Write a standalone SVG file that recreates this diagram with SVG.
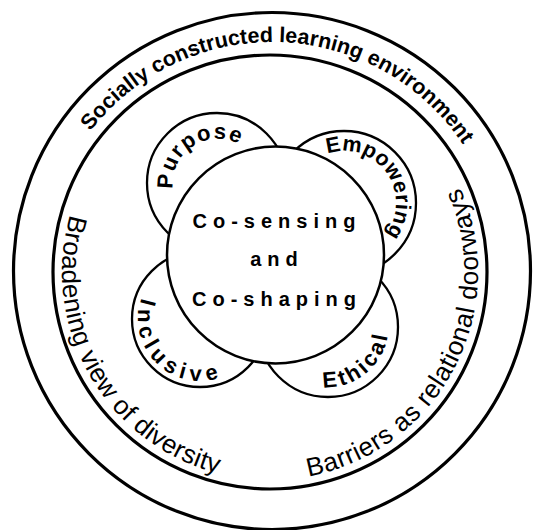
<svg xmlns="http://www.w3.org/2000/svg" xmlns:xlink="http://www.w3.org/1999/xlink" width="534" height="530" viewBox="0 0 534 530">
<style>
.ring{fill:none;stroke:#000;stroke-width:3.2}
.petal{fill:#fff;stroke:#000;stroke-width:2.3}
.core{fill:#fff;stroke:#000;stroke-width:2.5}
.lbl{font-family:"Liberation Sans",Arial,sans-serif;fill:#000}
.b{font-weight:bold}
</style>
<defs>
<path id="pSoc" d="M43.1,263 A229,229 0 0 1 500.9,279"/>
<path id="pBro" d="M167.1,91.2 A208,208 0 0 0 372.9,452.8"/>
<path id="pBar" d="M173.3,456.2 A208,208 0 0 0 366.7,87.8"/>
<path id="pPur" d="M180.5,209.3 A45,45 0 0 1 253.5,156.7"/>
<path id="pEmp" d="M313.3,161 A52,52 0 0 1 374.7,245"/>
<path id="pInc" d="M157.1,274.2 A62,62 0 0 0 242.9,363.8"/>
<path id="pEth" d="M278,363.6 A62,62 0 0 0 378,290.4"/>
</defs>
<rect width="534" height="530" fill="#fff"/>
<g id="environment">
<circle class="ring" cx="272" cy="271" r="258.5"/>
<text class="lbl b" font-size="21.5" text-anchor="middle"><textPath xlink:href="#pSoc" href="#pSoc" startOffset="359.7">Socially constructed learning environment</textPath></text>
</g>
<g id="diversity-ring">
<circle class="ring" cx="270" cy="272" r="217"/>
<text class="lbl" font-size="26" text-anchor="middle" letter-spacing="0.3"><textPath xlink:href="#pBro" href="#pBro" startOffset="326.9">Broadening view of diversity</textPath></text>
<text class="lbl" font-size="26" text-anchor="middle" letter-spacing="0.6"><textPath xlink:href="#pBar" href="#pBar" startOffset="327">Barriers as relational doorways</textPath></text>
</g>
<g id="purpose">
<circle class="petal" cx="217" cy="183" r="70"/>
<text class="lbl b" font-size="22" text-anchor="middle" letter-spacing="1.6"><textPath xlink:href="#pPur" href="#pPur" startOffset="71.5">Purpose</textPath></text>
</g>
<g id="empowering">
<circle class="petal" cx="344" cy="203" r="72"/>
<text class="lbl b" font-size="21.5" text-anchor="middle" letter-spacing="0.3"><textPath xlink:href="#pEmp" href="#pEmp" startOffset="81.9">Empowering</textPath></text>
</g>
<g id="inclusive">
<circle class="petal" cx="200" cy="319" r="68"/>
<text class="lbl b" font-size="22" text-anchor="middle" letter-spacing="5.5"><textPath xlink:href="#pInc" href="#pInc" startOffset="100.2">Inclusive</textPath></text>
</g>
<g id="ethical">
<circle class="petal" cx="328" cy="327" r="70"/>
<text class="lbl b" font-size="22" text-anchor="middle" letter-spacing="3"><textPath xlink:href="#pEth" href="#pEth" startOffset="98.9">Ethical</textPath></text>
</g>
<g id="core">
<circle class="core" cx="275.5" cy="255" r="108.5"/>
<text class="lbl b" font-size="20" text-anchor="middle" letter-spacing="6"><tspan x="277" y="228">Co-sensing</tspan><tspan x="277" y="266">and</tspan><tspan x="277" y="306">Co-shaping</tspan></text>
</g>
<g id="connectors"/>
</svg>
